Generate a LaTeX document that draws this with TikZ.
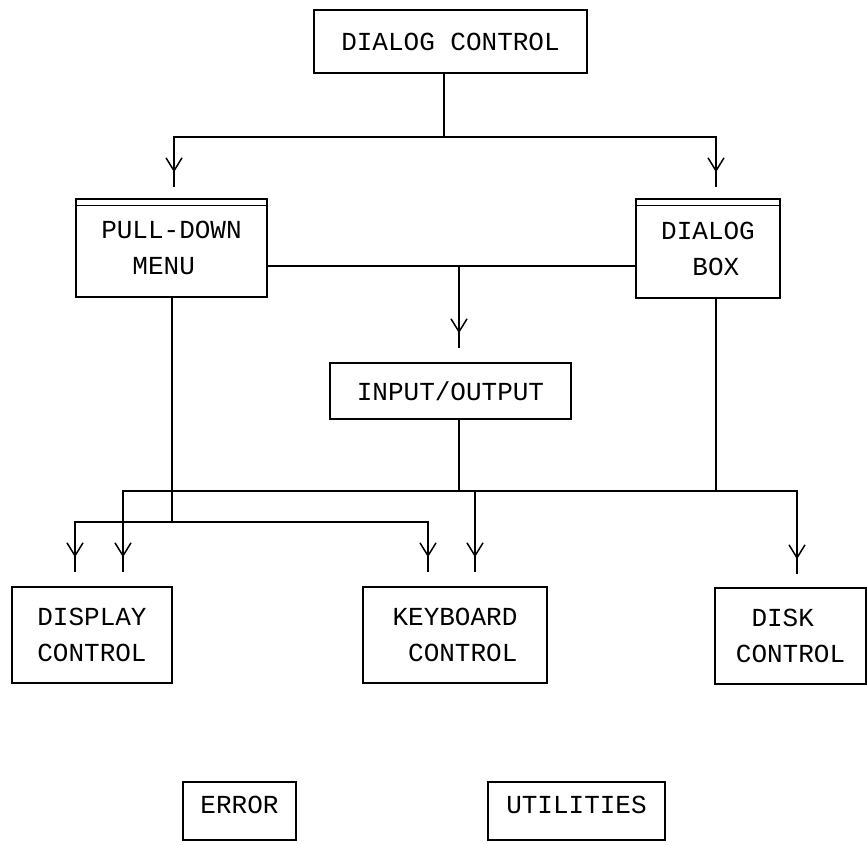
\documentclass[tikz,border=0pt]{standalone}
\usepackage{fontspec}
\newfontfamily\plotfont{Liberation Mono}
\usetikzlibrary{arrows.meta,decorations.markings}

\tikzset{
  box/.style={draw, line width=1.5pt, inner sep=0pt, align=left,
    font=\plotfont\fontsize{26}{36}\selectfont},
  wire/.style={line width=1.5pt},
  arr/.style={wire, postaction={decorate}, decoration={markings,
    mark=at position -15pt with {\arrow[line width=1.5pt]{Straight Barb[length=13pt,width=16pt]}}}}
}
\newcommand{\padchar}{\hphantom{M}}

\begin{document}
\begin{tikzpicture}[x=1pt, y=-1pt]
  \useasboundingbox (0,0) rectangle (867,844);

  % boxes
  \node[box, minimum width=273pt, minimum height=63pt] (dc)   at (450.5,41.5) {DIALOG CONTROL};
  \node[box, minimum width=191pt, minimum height=98pt] (pd)   at (171.5,248)  {PULL-DOWN\\\padchar\padchar MENU};
  \node[box, minimum width=144pt, minimum height=99pt] (db)   at (708,248.5)  {DIALOG\\\padchar\padchar BOX};
  \node[box, minimum width=241pt, minimum height=56pt] (io)   at (450.5,391)  {INPUT/OUTPUT};
  \node[box, minimum width=160pt, minimum height=96pt] (disp) at (92,635)     {DISPLAY\\CONTROL};
  \node[box, minimum width=184pt, minimum height=96pt] (kb)   at (455,635)    {KEYBOARD\\\padchar CONTROL};
  \node[box, minimum width=151pt, minimum height=96pt] (disk) at (790.5,636)  {\padchar DISK\\CONTROL};
  \node[box, minimum width=113pt, minimum height=58pt, text depth=12pt] (err)  at (239.5,811) {ERROR};
  \node[box, minimum width=177pt, minimum height=58pt, text depth=12pt] (util) at (576.5,811) {UTILITIES};

  % double rule under the top edge of the menu boxes
  \foreach \b in {pd,db}
    \draw[wire] ([yshift=-7pt]\b.north west) -- ([yshift=-7pt]\b.north east);

  % junction points
  \coordinate (j1) at (444,137);
  \coordinate (j2) at (459,266);
  \coordinate (j3) at (459,491);
  \coordinate (j4) at (716,491);
  \coordinate (j5) at (172,522);

  % dialog control fans out to the two menu boxes
  \draw[wire] (dc.south -| j1) -- (j1);
  \draw[arr] (j1) -| ([xshift=2.5pt,yshift=11pt]pd.north);
  \draw[arr] (j1) -| ([xshift=8pt,yshift=11pt]db.north);

  % menu boxes feed input/output
  \draw[wire] ([yshift=-18pt]pd.east) -- ([yshift=-18pt]pd.east -| db.west);
  \draw[arr] (j2) -- ([xshift=8.5pt,yshift=14pt]io.north);

  % input/output and dialog box bus
  \draw[wire] (io.south -| j3) -- (j3);
  \draw[wire] (db.south -| j4) -- (j4);
  \draw[wire] (j3) -- (j4);
  \draw[arr] (j3) -| ([xshift=31pt,yshift=14pt]disp.north);
  \draw[arr] (j3) -| ([xshift=20pt,yshift=14pt]kb.north);
  \draw[arr] (j4) -| ([xshift=6.5pt,yshift=13pt]disk.north);

  % pull-down menu bus
  \draw[wire] (pd.south -| j5) -- (j5);
  \draw[arr] (j5) -| ([xshift=-17pt,yshift=14pt]disp.north);
  \draw[arr] (j5) -| ([xshift=-27pt,yshift=14pt]kb.north);
\end{tikzpicture}
\end{document}
